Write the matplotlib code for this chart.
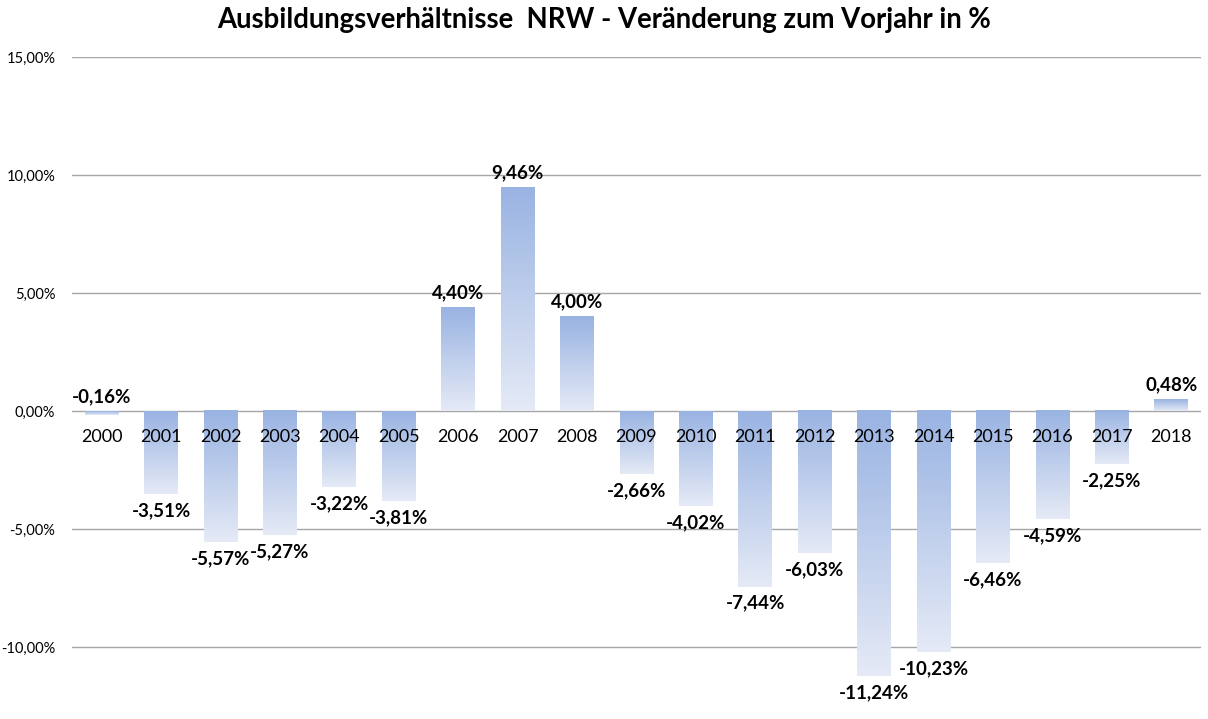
import numpy as np
import matplotlib.pyplot as plt
from matplotlib.colors import LinearSegmentedColormap

years = [str(y) for y in range(2000, 2019)]
changes = [-0.16, -3.51, -5.57, -5.27, -3.22, -3.81, 4.40, 9.46, 4.00, -2.66,
           -4.02, -7.44, -6.03, -11.24, -10.23, -6.46, -4.59, -2.25, 0.48]
yticks = [-10, -5, 0, 5, 10, 15]

plt.rcParams['font.family'] = ['Lato', 'DejaVu Sans']

fig = plt.figure(figsize=(12.08, 7.19), dpi=100)
ax = fig.add_axes([72 / 1208, 0.0, 1129 / 1208, 1 - 57 / 719])

cmap = LinearSegmentedColormap.from_list('bars', ['#99b3e2', '#e5eaf6'])
grad = np.linspace(0, 1, 256).reshape(-1, 1)
width = 0.57

for i, v in enumerate(changes):
    top, bottom = max(v, 0), min(v, 0)
    ax.imshow(grad, cmap=cmap, aspect='auto', origin='upper',
              extent=[i - width / 2, i + width / 2, bottom, top], zorder=2)
    label = f"{v:.2f}%".replace('.', ',')
    if v >= 0 or i == 0:
        ax.annotate(label, (i, top), xytext=(0, 6), textcoords='offset pixels',
                    ha='center', va='bottom', fontsize=13.5, fontweight='bold', zorder=4)
    else:
        ax.annotate(label, (i, bottom), xytext=(0, -8), textcoords='offset pixels',
                    ha='center', va='top', fontsize=13.5, fontweight='bold', zorder=4)
    ax.annotate(years[i], (i, 0), xytext=(0, -26), textcoords='offset pixels',
                ha='center', va='center', fontsize=13, zorder=4)

ax.set_xlim(-0.5, len(changes) - 0.5)
ax.set_ylim(-13.05, 15)
ax.set_yticks(yticks)
ax.set_yticklabels([f"{t:.2f}%".replace('.', ',') for t in yticks], fontsize=10.5)
ax.set_xticks([])
ax.tick_params(axis='y', length=0, pad=12)
ax.grid(axis='y', color='#a6a6a6', linewidth=1)
ax.set_axisbelow(True)
for s in ax.spines.values():
    s.set_visible(False)

fig.text(0.5, 1 - 20 / 719, 'Ausbildungsverhältnisse  NRW - Veränderung zum Vorjahr in %',
         ha='center', va='center', fontsize=19.8, fontweight='bold')

fig.savefig('out.png', dpi=100)
